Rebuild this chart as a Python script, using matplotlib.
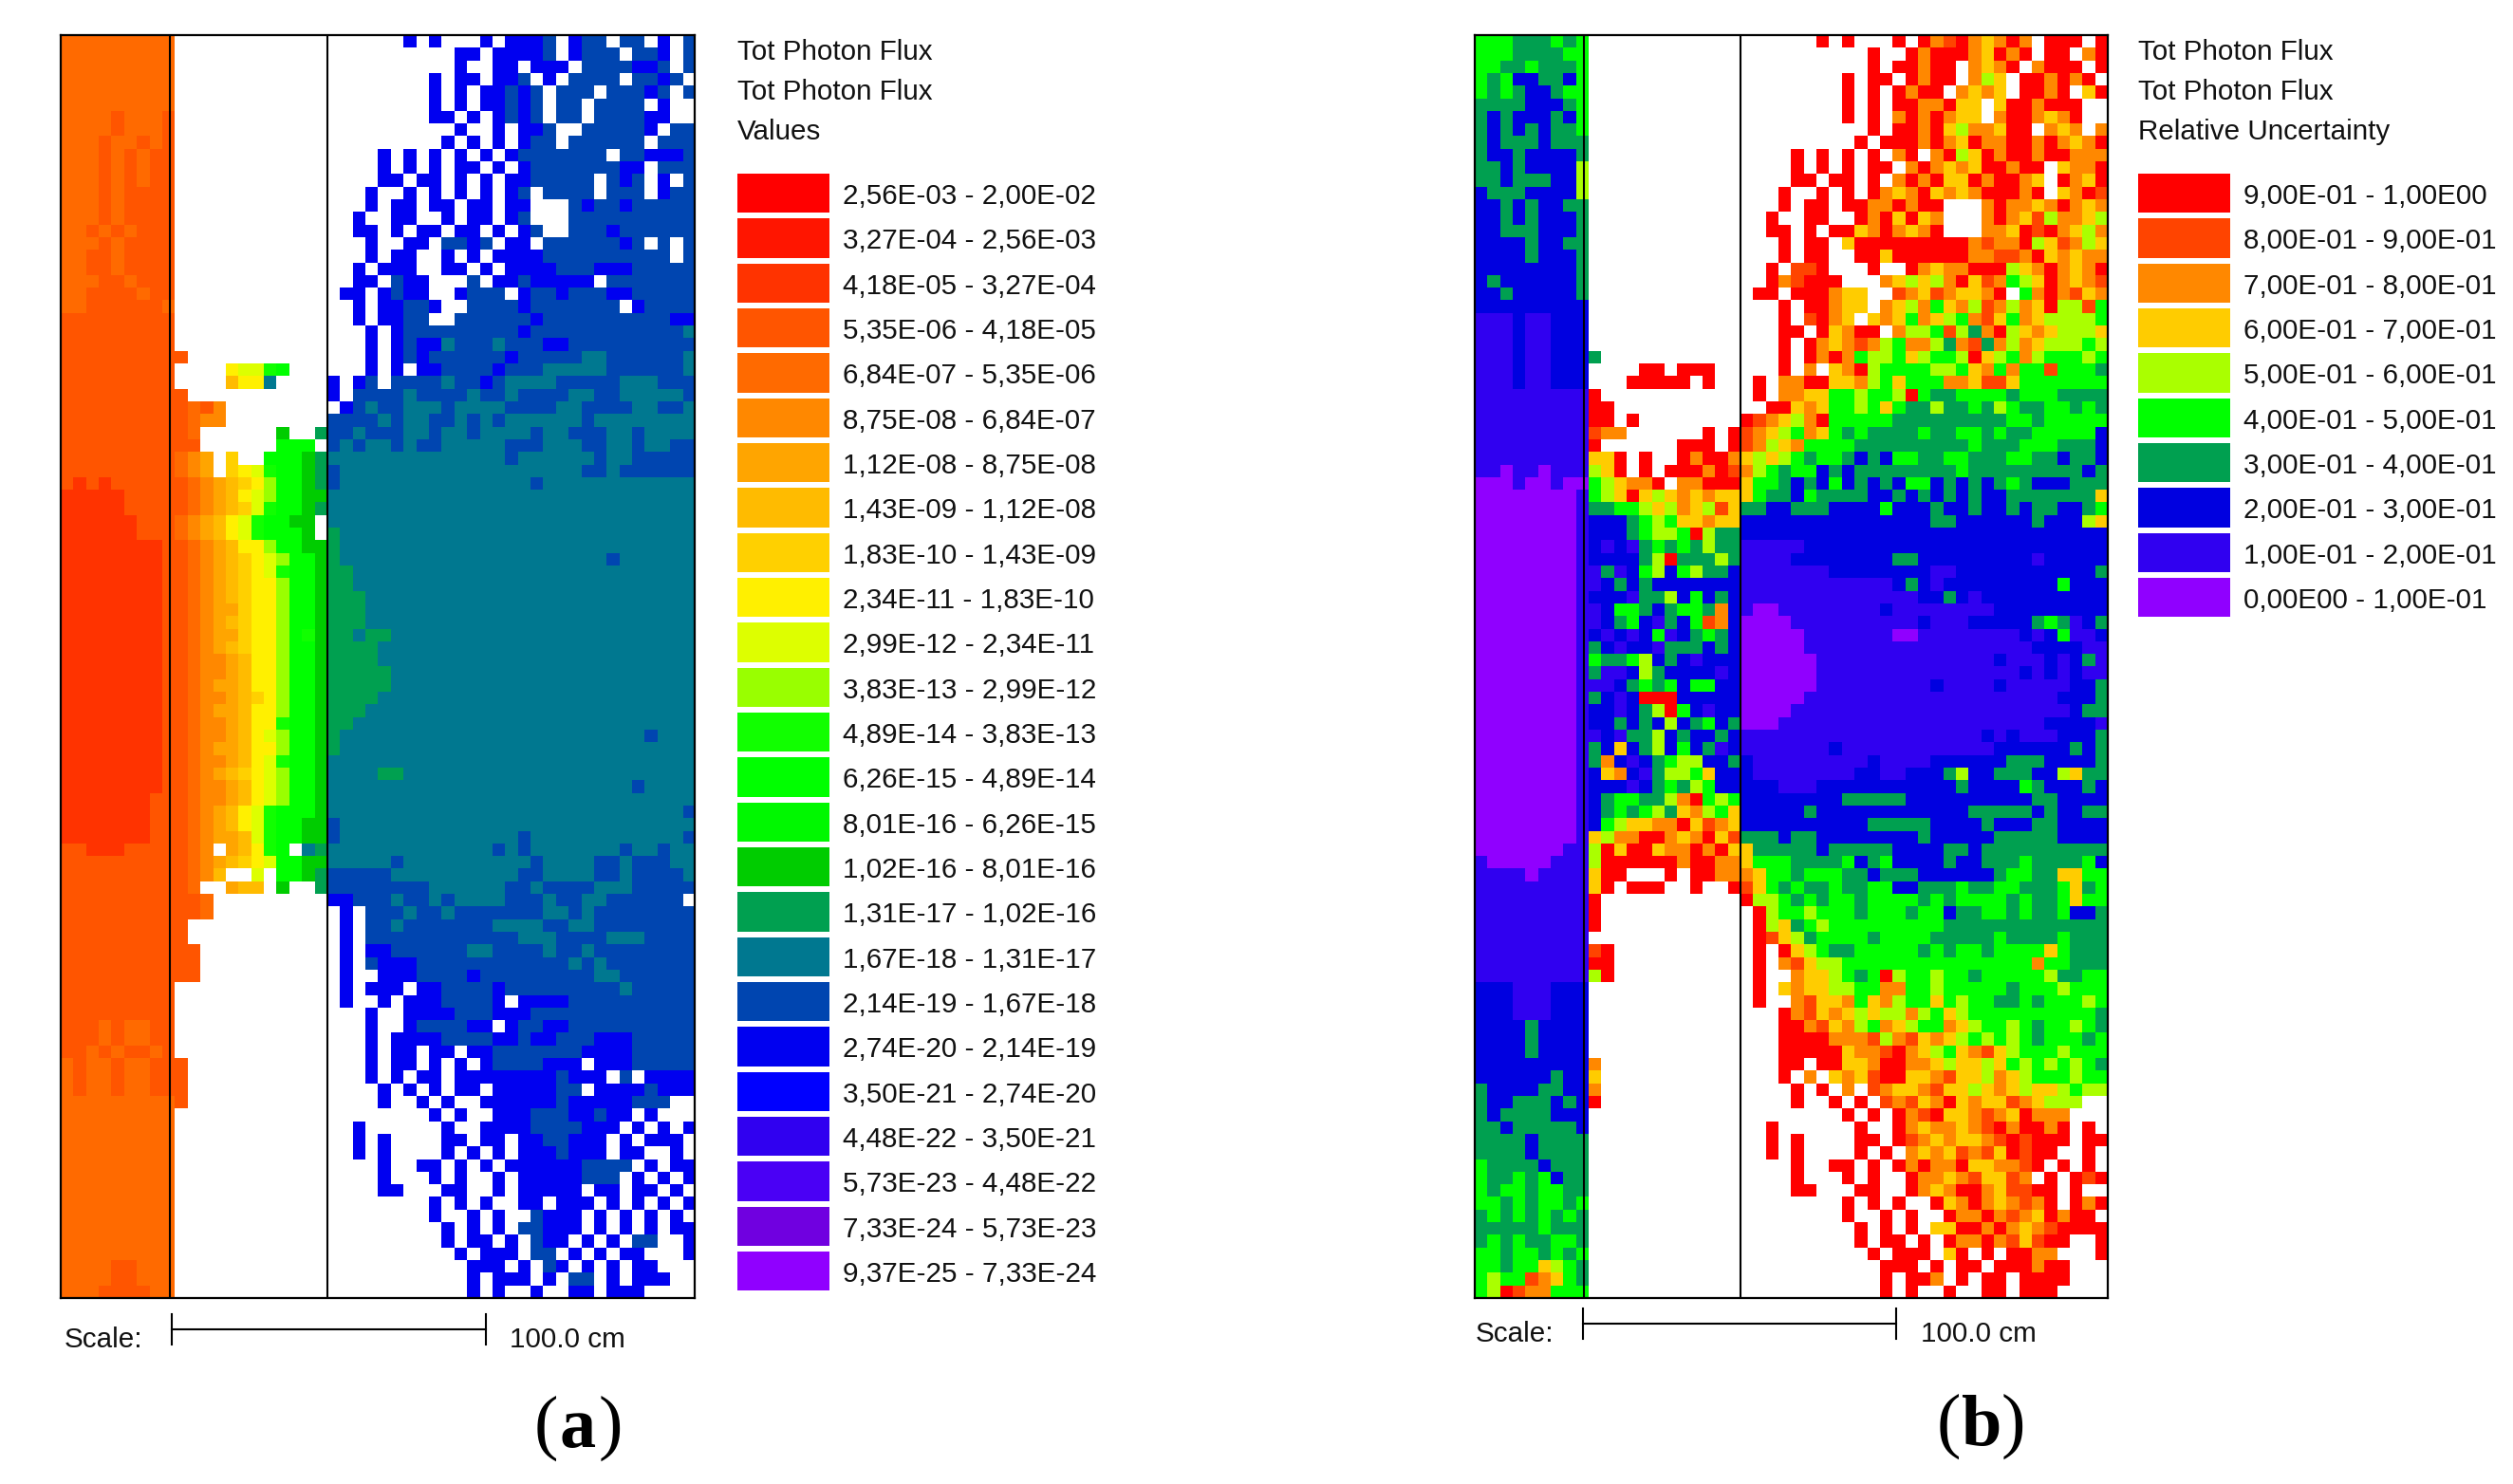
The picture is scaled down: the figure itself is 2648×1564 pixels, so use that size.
import numpy as np
import matplotlib
matplotlib.use('Agg')
import matplotlib.pyplot as plt
from matplotlib.colors import ListedColormap
from matplotlib.patches import Rectangle

# legend classes, top to bottom
FLUX_LABELS = ['2,56E-03 - 2,00E-02', '3,27E-04 - 2,56E-03', '4,18E-05 - 3,27E-04', '5,35E-06 - 4,18E-05',
               '6,84E-07 - 5,35E-06', '8,75E-08 - 6,84E-07', '1,12E-08 - 8,75E-08', '1,43E-09 - 1,12E-08',
               '1,83E-10 - 1,43E-09', '2,34E-11 - 1,83E-10', '2,99E-12 - 2,34E-11', '3,83E-13 - 2,99E-12',
               '4,89E-14 - 3,83E-13', '6,26E-15 - 4,89E-14', '8,01E-16 - 6,26E-15', '1,02E-16 - 8,01E-16',
               '1,31E-17 - 1,02E-16', '1,67E-18 - 1,31E-17', '2,14E-19 - 1,67E-18', '2,74E-20 - 2,14E-19',
               '3,50E-21 - 2,74E-20', '4,48E-22 - 3,50E-21', '5,73E-23 - 4,48E-22', '7,33E-24 - 5,73E-23',
               '9,37E-25 - 7,33E-24']
FLUX_COLORS = ['#FF0000', '#FF1500', '#FF3300', '#FF5500', '#FF6A00', '#FF8800', '#FFA500', '#FFBB00',
               '#FFD000', '#FFF000', '#DDFF00', '#99FF00', '#11FF00', '#00FF00', '#00F800', '#00CC00',
               '#00A050', '#007890', '#0045B0', '#0000F0', '#0000FF', '#3000F0', '#4A00F5', '#7000E0',
               '#9000FF']
UNC_LABELS = ['9,00E-01 - 1,00E00', '8,00E-01 - 9,00E-01', '7,00E-01 - 8,00E-01', '6,00E-01 - 7,00E-01',
              '5,00E-01 - 6,00E-01', '4,00E-01 - 5,00E-01', '3,00E-01 - 4,00E-01', '2,00E-01 - 3,00E-01',
              '1,00E-01 - 2,00E-01', '0,00E00 - 1,00E-01']
UNC_COLORS = ['#FF0000', '#FF4400', '#FF8800', '#FFCC00', '#AAFF00', '#00FF00', '#00A050', '#0000E0',
              '#3000F0', '#9000FF']

# mesh cells: a = first legend class, b = second ..., '.' = no value
# left part of each row: slab and air gap, right part: region behind the second wall
FLUX_LEFT = [
    'eeeeeeeee............', 'eeeeeeeee............', 'eeeeeeeee............', 'eeeeeeeee............',
    'eeeeeeeee............', 'eeeeeeeee............', 'eeeedeeed............', 'eeeedeeed............',
    'eeedeeded............', 'eeedededd............', 'eeedededd............', 'eeedededd............',
    'eeededddd............', 'eeededddd............', 'eeededddd............', 'eedededdd............',
    'eeededddd............', 'eeddedddd............', 'eeddedddd............', 'eeeddeddd............',
    'eeddddedd............', 'eedddddde............', 'ddddddddd............', 'ddddddddd............',
    'ddddddddd............', 'dddddddddd...........', 'ddddddddd....jkkmn...', 'ddddddddd....hjjr....',
    'dddddddddd...........', 'ddddddddddedf........', 'ddddddddddeff........', 'dddddddddde......p..q',
    'ddddddddddd......nnn.', 'dddddddddefg.i..nnnpq', 'dddddddddefg.ijkmnnpq', 'dcdcddddddefghijlnnpq',
    'cccccdddddefghjklnnpp', 'cccccdddddefghikmnnpq', 'ccccccdddefghjkmnnpp', 'ccccccdddefghjkmnnnp',
    'ccccccccddefghjjlnnpp', 'ccccccccddefghijklnnp', 'ccccccccddefghijkmnnp', 'ccccccccddefghijjlnnp',
    'ccccccccddefghijjlnnp', 'ccccccccddefggijjlnnp', 'ccccccccddefghijjlnnp', 'ccccccccddefggijjlnmp',
    'ccccccccddefghijjlnnp', 'ccccccccddeffghjjlnnp', 'ccccccccddeffghjjlnnp', 'ccccccccddefgghjjlnnp',
    'ccccccccddeffghijlnnp', 'ccccccccddefgghjjlnnp', 'ccccccccddeffghjjmnnp', 'ccccccccddeffghjklnnp',
    'ccccccccddefgghjjlnnp', 'ccccccccddeffghjkmnnp', 'ccccccccddefghijklnnp', 'ccccccccddeffghjklnnp',
    'cccccccdddeffghjklnnp', 'cccccccdddefghjkmnnnp', 'cccccccdddefghjkmnnpp', 'cccccccdddefgghkmnnpp',
    'ddcccdddddef.ghjmn.rq', 'ddddddddddefghijknnpp', 'ddddddddddefh..k.nnpq', 'dddddddddde..ghh.p..q',
    'ddddddddddde.........', 'ddddddddddde.........', 'dddddddddd...........', 'dddddddddd...........',
    'ddddddddddd..........', 'ddddddddddd..........', 'ddddddddddd..........', 'ddddddddd............',
    'ddddddddd............', 'ddddddddd............', 'dddedeedd............', 'dddedeedd............',
    'ddededded............', 'edeedeeddd...........', 'edeedeeddd...........', 'edeedeeddd...........',
    'eeeeeeeeed...........', 'eeeeeeeee............', 'eeeeeeeee............', 'eeeeeeeee............',
    'eeeeeeeee............', 'eeeeeeeee............', 'eeeeeeeee............', 'eeeeeeeee............',
    'eeeeeeeee............', 'eeeeeeeee............', 'eeeeeeeee............', 'eeeeeeeee............',
    'eeeeeeeee............', 'eeeeddeee............', 'eeeeddeee............', 'eeeddddee............',
]
FLUX_RIGHT = [
    '......t.t...t.ttts.tss.ss.t.s', '..........tt.tttts.tsss.sst.s', '..........t..tt.ttt.sssstts.s',
    '........t.tt.tts.t.ssss.ssts.', '........t.t.ttsts.sss.sssts.s', '........t.t.ttsts.ss.ssss.t..',
    '........tt.t.tsts.ss.sssstt..', '..........t..t.tts..ssssst.ss', '.........t.t.t.tss.ssssss.sss',
    '....t.t.t.t.t.tsssssss.ssttts', '....t.t.t.tt.t.tssssssstt.sss', '....tt.tt.t.t.ttsssss.sts.t.s',
    '...t..t.t.t.t.ts.ssss.sss.tss', '...t.tt.tt.tt.tt...stsstsssss', '..t..tt..t.tt.ts...ssssssssss',
    '..tt.t.tt.tt.t.ts..ssstssssss', '...t..tt.ssts.tt.ssssssts.s.s', '...t.tt..t.t.ttttssssssssss.s',
    '..t.ttt..tt.t.ttttssstttsssss', '..tt.stt...s.ttsttttt.sssssss', '.tt.tstt..tsss.tsstsssttsssss',
    '..t.ttsst..sssstsssssss.tssss', '..t.ttss..sssssstsssssssssstt', '...t.tssssssssstssssssssssssr',
    '...t.tsttrsssrsssttssssssssss', '...t.tstsssssstsssssrrssssssr', '...t.t.ttsssstsssrrrrrssssssr',
    't.ts.ssssrsstsrrrrsssssrrrsss', 't.ssssrssssrssrssssrrssrrrrrs', '.tsrssrrrsrrrrssssrrssssrrssr',
    'ssssrsrrssrsrsrrrrrrsrrrrrrrr', 'ssrsssrrsrrsrrrrsrrsssrrsrrrr', 'srsrrsrssrrrrrsssrrrssrrsrrss',
    'rrrrrrrrrrrrrrsrrrrrrsrrsssss', 'srrrrrrrrrrrrrrrrrrrssrssssss', 'srrrrrrrrrrrrrrrsrrrrrrrrrrrr',
    'rrrrrrrrrrrrrrrrrrrrrrrrrrrrr', 'rrrrrrrrrrrrrrrrrrrrrrrrrrrrr', 'rrrrrrrrrrrrrrrrrrrrrrrrrrrrr',
    'qrrrrrrrrrrrrrrrrrrrrrrrrrrrr', 'qrrrrrrrrrrrrrrrrrrrrrrrrrrrr', 'qrrrrrrrrrrrrrrrrrrrrrsrrrrrr',
    'qqrrrrrrrrrrrrrrrrrrrrrrrrrrr', 'qqrrrrrrrrrrrrrrrrrrrrrrrrrrr', 'qqqrrrrrrrrrrrrrrrrrrrrrrrrrr',
    'qqqrrrrrrrrrrrrrrrrrrrrrrrrrr', 'qqqrrrrrrrrrrrrrrrrrrrrrrrrrr', 'qqrqqrrrrrrrrrrrrrrrrrrrrrrrr',
    'qqqqrrrrrrrrrrrrrrrrrrrrrrrrr', 'qqqqrrrrrrrrrrrrrrrrrrrrrrrrr', 'qqqqqrrrrrrrrrrrrrrrrrrrrrrrr',
    'qqqqqrrrrrrrrrrrrrrrrrrrrrrrr', 'qqqqrrrrrrrrrrrrrrrrrrrrrrrrr', 'qqqrrrrrrrrrrrrrrrrrrrrrrrrrr',
    'qqrrrrrrrrrrrrrrrrrrrrrrrrrrr', 'qrrrrrrrrrrrrrrrrrrrrrrrrsrrr', 'qrrrrrrrrrrrrrrrrrrrrrrrrrrrr',
    'rrrrrrrrrrrrrrrrrrrrrrrrrrrrr', 'rrrrqqrrrrrrrrrrrrrrrrrrrrrrr', 'rrrrrrrrrrrrrrrrrrrrrrrrsrrrr',
    'rrrrrrrrrrrrrrrrrrrrrrrrrrrrr', 'rrrrrrrrrrrrrrrrrrrrrrrrrrrrs', 'srrrrrrrrrrrrrrrrrrrrrrrrrrrr',
    'srrrrrrrrrrrrrrsrrrrrrrrrrrrs', 'rrrrrrrrrrrrrsrsrrrrrrrsrrsrr', 'rrrrrsrrrrrrrrrrsrrrrssrsssrr',
    'sssssrrrrrrrrrrssrrrrssrssssr', 'ssssssssrrrrrrssrssssrrrsssss', 'ttsssrssrsrrrrsssrssrrssssss',
    '.t.sssrssrsssssssrrsrssssssss', '.t.ssrsssssssrrrrssrrssssssss', '.t.ssssssssssssrrrssssrrrssss',
    '.t.ttssssssrrssssrssrssssssss', '.t.stttssssssssssssrsrsssssss', '.t..tttsssstsssssssssrrssssss',
    '.t.ttt.ttsssstsssssssssrsssss', '.t..t.tttsssst.ttttssssssssss', '...t..ttttssstttsssssssssssss',
    '...t..tsssstt.tssttssssssssss', '...t.ttttssssttsttssstttsssss', '...t.tt.tt.ttsssssssttttsssss',
    '...t.tt.t.t.tssssttt.tttsssss', '...t.t.tt.ttttttttsttt.s.tttt', '....t.t.t.tt.tttttss.ttttsttt',
    '....t..t.t..ttttttstttttsss..', '........t.t..tttsssttstt.t...', '..t......t..ttttssssttt.t.t.t',
    '..t.t....tt.tt.ttssttt.t.ttt.', '..t.t....t.t.t.tttsttt.tt..t.', '....t..tt.t.t.ttttttssss.t.tt',
    '....t...t.t..t.tttttsss.t.t.t', '....tt...tt..t.ttttt.tt.tt.t.', '........t.t.t..tt.ttt.t.t.t.t',
    '........t..t.t..sttt.t.t.t.t.', '.........t.t.t.ssttt.t.t.t.tt', '.........t.tt.t.stt.t.t.ss..t',
    '..........t.ttt.ss.t.t.tt...t', '...........ttt.t.st.t.t.tt...', '...........t.ttt.t.ss.t.ttt..',
    '...........t.t..t..tt.ttt....',
]
UNC_LEFT = [
    'fffgggfgf............', 'fffggggff............', 'ffggfgggf............', 'fgfhhgghf............',
    'fgfghhgff............', 'gggghhhgf............', 'ghghhhghf............', 'ghghghggf............',
    'ghggghggg............', 'ghhghhhhg............', 'gghghhhhe............', 'gghggghhe............',
    'hggghhhhe............', 'hhghghhgg............', 'hhghghhhg............', 'hhggghhhg............',
    'hhhhghhgg............', 'hhhhghhhg............', 'hhhhhhhhg............', 'hghhhhhhg............',
    'hhghhhhhg............', 'hhhhhhhhh............', 'iiihiihhh............', 'iiihiihhh............',
    'iiihiihhh............', 'iiihiihhhg...........', 'iiihiihhh....aa.aaa..', 'iiihiihhh...aaaaa.a..',
    'iiiiiiiiia...........', 'iiiiiiiiiaa..........', 'iiiiiiiiiaa.a........', 'iiiiiiiiibcc......a.a',
    'iiiiiiiiia......aaa.a', 'iiiiiiiiidda.a..acaac', 'iijiijiiieda.a.aaacab', 'jjjijjijjfedcca.ccaaa',
    'jjjjjjjjifedadedcdcdd', 'jjjjjjjjiggffedecdebd', 'jjjjjjjjihhhgfefddcdd', 'jjjjjjjjihhhgfeefaegg',
    'jjjjjjjjihihigfgfgegg', 'jjjjjjjjihhhhgeagggeg', 'jjjjjjjjiigihfehfeggh', 'jjjjjjjjiihghghhhhhhh',
    'jjjjjjjjihhhiggehfhgh', 'jjjjjjjjiihffghgffgch', 'jjjjjjjjiihgfhighfbch', 'jjjjjjjjihihihfihgfgh',
    'jjjjjjjjighihhiggghgh', 'jjjjjjjjifggfehghihhh', 'jjjjjjjjigiiheghhhhih', 'jjjjjjjjiiihgfgfhffhh',
    'jjjjjjjjighihaaahhhhh', 'jjjjjjjjihhihgeafhihh', 'jjjjjjjjihhghghehgfhg', 'jjjjjjjjiihiggehghhgh',
    'jjjjjjjjighdhgehfhgih', 'jjjjjjjjigchihgfeehhg', 'jjjjjjjjihdchigeefdhh', 'jjjjjjjjihhhihgfgefhh',
    'jjjjjjjjihgffggecafef', 'jjjjjjjjihgfgfegdcefd', 'jjjjjjjjihfeddccadbcd', 'jjjjjjjjideccaacdcadb',
    'jjjjjjjiieadaadccacad', 'ijjjjjiiieaaaaaacaacc', 'iiiijiiiidaa...a.aacc', 'iiiiiiiiida.aaa..a..a',
    'iiiiiiiiia...........', 'iiiiiiiiia...........', 'iiiiiiiiia...........', 'iiiiiiiii............',
    'iiiiiiiiiba..........', 'iiiiiiiiiaa..........', 'iiiiiiiiiea..........', 'hhhiiihhh............',
    'hhhiiihhh............', 'hhhiiihhh............', 'hhhhghhhh............', 'hhhhghhhh............',
    'hhhhghhhh............', 'hhhhhhhhhc...........', 'hhhhhhghhd...........', 'ghhhhgghhc...........',
    'ghhggghgha...........', 'ghgggghhh............', 'gghgggggh............', 'gggghgggg............',
    'gggghgggg............', 'fgggghggg............', 'fggfgfhgg............', 'fgffgffgg............',
    'ffgfgffgf............', 'gfgfgfgfg............', 'gggggfggg............', 'gfgfggffg............',
    'ffgffgfgf............', 'ffgffdefg............', 'feffbcdfg............', 'feabccfff............',
]
UNC_RIGHT = [
    '......a.a...a.acbacdcac.aaa.a', '..........a..acaaacdaca.aa.ca', '..........a.aacaa.cdca.caaa.a',
    '........a.aa.acaa.ced.aacaca.', '........a.a.acaa.cdcd.aaca.da', '........a.a.aaccadd.daacaaa..',
    '........a.a.cacacdd.caacdca..', '..........a.aacadeccdaa.cdc.c', '.........a.aaacacdaccaacacdca',
    '....a.a.a.a.ca.caedacaacaaccc', '....a.a.a.aa.cacdcdaacaa.dcca', '....aa.aa.a.cacaddacaacd.acda',
    '...a..a.a.acdcadcdcaaaca.dcab', '...a.aa.aaccacaa...caccdcacdc', '..a..aa..acadadc...cacdbeccde',
    '..aa.a.aadcacdca...ccdabacdec', '...a.aa.daaaaaaaaacbccaedbced', '...a.aa..aadaaaaaaccbbcadcdcc',
    '..a.bba...a..acdccaaaedcacdca', '..acbaaa...cdedecadbcfedacdcb', '.aa.aaacdd..bcdbcddca.fcacbdc',
    '...a.aacdd.cdecfdcebcecdaeebf', '...a.bacd.dcdfcdefcbdfcdeeeef', '...aa.adcaa.ceefbegcaedcdeeed',
    '...a.acdcbcefccegcbgcecdeeefe', '...a.acacfeefdeffeadefcefffef', '...a.c.dcaeffffeefdcfcffbfffg',
    '.a.ccaaddcefdfffccdbbdfffffff', '.a.ccddffeffeafggffffgfffgggg', '..aadcdffefdfggeggfgefggffgfg',
    'abcdecafffffgggggggggffgfffff', 'bcdefcdfgfggggfggffgfggfffffh', 'bcedcffffgggggggggfgggfffgggh',
    'dedefgffghghffggffgggffgghggh', 'cefgffhghggggggggfggggggggghg', 'dffghghfhghghffhghghgfghhhggg',
    'dfgghfgggghhghghghghhgggggggd', 'gghhggghhhhfhhhghhghhghgghhgf', 'hhhhhhhhhhhhhhhgghhhhhhghhhed',
    'hhhhhhhhhhhhhhhhhhhhhhhhhhhhh', 'iiiiihhhhhhhhhhhhhhhhhhhhhhhh', 'iiiihhhhhhhhgghhhhhhhhhihhhhh',
    'iiiiiiihhhhhhhhiihhhhhhhhhhhg', 'iiiiiiiiiiiihghihhhhhhhhhfhhh', 'iiiiiiiiiiiiiihhghihhhhhhhhhh',
    'ijjiiiiiiiihiiiiiiiihhhhhhhhh', 'jjjjiiiiiiiiiihiiihhhhhgfgihg', 'jjjjjiiiiiiijjiiiiiiiihihfiih',
    'jjjjjiiiiiiiiiiiiiiiiiihhhhii', 'jjjjjjiiiiiiiiiiiiiihiiihihgi', 'jjjjjjiiiiiiiiiiiiiiiihihihii',
    'jjjjjjiiiiiiiiihiiiihiiiiihhg', 'jjjjjiiiiiiiiiiiiiiiiiiiihhhg', 'jjjjiiiiiiiiiiiiiiiiiiiiiihgg',
    'jjjiiiiiiiiiiiiiiiiiiiiihhhhi', 'iiiiiiiiiiiiiiiiiiihihiiihhhg', 'iiiiiiihiiiiiiiiiiiihhhhhhghg',
    'hiiiiiiiiihiiiihhhhhhggghhhhg', 'hiiiiiiiihhiihhhgehhggghhedgg', 'hhhiiihhhhhhhhhhhghhhhfghhhgh',
    'hhhhhhhhggggghhhhhhhhhhgghhhh', 'hhhhhghhhhhhhhhhhhggggghghhgg', 'hhhhhhhhhhggggghhhhghhhgghhhh',
    'ggghgghhhhhhhhghhhhhggggghhhh', 'dggggghggggghhhhgghggggggggggh', 'dfffggggfhgfhhhhghhgggfggggfh',
    'cdffgfffgghggghhhhhhgffggddff', 'bdfgfggfggffhhgggfggffgggfdgf', 'aeefgfgffgffffgfgffffgfggfdff',
    '.aeffefffgfffgffhggffgfggfhhg', '.aedgfefffffffffggggggggggggg', '.abdegffffgffffgggggfggggfggg',
    '.a.adefggfffffgfgffgffffdfggg', '.a.cbdeefffffffffffffffcffggg', '.a..cddefgfaeffeffgfffffeggff',
    '.a.dcddeeffccffefffffgfffefff', '.a..cbddcfdceffdfeffggfgfffef', '...acbdcdedeecefdeffffffffffg',
    '...aacbdcefcdeffcdeffefgffefg', '...aaaacccbecbdcdefefefgfffgf', '...aaaaadccbacdefdcbdefffefff',
    '...aa.aaddcaaccdeddedfefefefg', '...a.c.dcdbaaddcbddecdefffeff', '....a.a.c.bcddcbddedcdeddefee',
    '....a..a.a.bcbdcadcddbcdeee..', '........a.a.acbaddcbcdaccc...', '..a......a..acdccdcbacaaca.a.',
    '..a.a....aa.abcdcddcbabaaa.aa', '..a.a....a.a.cdcdbcbdabaa..a.', '....a..aa.a.acaccaddccba.a.a.',
    '....a...a.a..accdcbddbc.a.aba', '....aa...aa..acdcaacdbbaa.a..', '........a.a.a..adcacdcbca.aca',
    '........a..a.a..accacbcdacaa.', '.........a.a.a.ddaacacdcbaaaa', '.........a.aa.a.accacbdbaa..a',
    '..........a.aaa.da.a.aacc...a', '...........aaa.a.aa.aaacaa...', '...........a.aac.a.aa.aaaa...',
    '...........a.a..a..aa.aaa....',
]


def to_grid(left, right):
    # letters to class numbers, left part 21 cells wide, right part 29
    grid = np.full((len(left), 50), np.nan)
    for i, (l, r) in enumerate(zip(left, right)):
        row = l.ljust(21, '.')[:21] + r.ljust(29, '.')[:29]
        for j, ch in enumerate(row):
            if ch != '.':
                grid[i, j] = ord(ch) - ord('a')
    return grid


W, H = 2648, 1564


def draw_map(fig, box, walls, grid, colors):
    x0, x1, y0, y1 = box
    ax = fig.add_axes([x0 / W, 1 - y1 / H, (x1 - x0) / W, (y1 - y0) / H])
    cmap = ListedColormap(colors)
    ax.imshow(np.ma.masked_invalid(grid), cmap=cmap, vmin=-0.5, vmax=len(colors) - 0.5,
              extent=(0, 50, 100, 0), aspect='auto', interpolation='nearest')
    for w in walls:
        ax.axvline(w, color='black', lw=1.5)
    ax.set_xticks([])
    ax.set_yticks([])
    for s in ax.spines.values():
        s.set_linewidth(1.6)
    return ax


def draw_legend(page, x, header, labels, colors):
    for i, t in enumerate(header):
        page.text(x, 55 + 42 * i, t, fontsize=LEG_FS, va='center', ha='left', color='#111111')
    for i, (t, c) in enumerate(zip(labels, colors)):
        top = 183 + 47.33 * i
        page.add_patch(Rectangle((x, top), 97, 41.3, facecolor=c, edgecolor='none'))
        page.text(x + 111, top + 24, t, fontsize=LEG_FS, va='center', ha='left', color='#111111')


def draw_scale(page, x0, x1, y, tx, lab_x):
    page.plot([x0, x1], [y, y], color='black', lw=1.5)
    page.plot([x0, x0], [y - 16, y + 16], color='black', lw=1.5)
    page.plot([x1, x1], [y - 16, y + 16], color='black', lw=1.5)
    page.text(tx, y + 11, 'Scale:', fontsize=LEG_FS, va='center', ha='left', color='#111111')
    page.text(lab_x, y + 11, '100.0 cm', fontsize=LEG_FS, va='center', ha='left', color='#111111')


def draw_tag(page, xc, y, letter):
    # parentheses are regular weight, the letter is bold
    page.text(xc - 34, y, '(', fontsize=55, family='Liberation Serif', ha='center', va='center')
    page.text(xc, y + 2, letter, fontsize=55, family='Liberation Serif', weight='bold', ha='center', va='center')
    page.text(xc + 34, y, ')', fontsize=55, family='Liberation Serif', ha='center', va='center')


LEG_FS = 21.3
plt.rcParams['font.family'] = ['Liberation Sans', 'DejaVu Sans']

fig = plt.figure(figsize=(W / 100, H / 100), dpi=100)
page = fig.add_axes([0, 0, 1, 1])
page.set_xlim(0, W)
page.set_ylim(H, 0)
page.axis('off')

draw_map(fig, (64, 732, 37, 1368), [8.6, 21.0], to_grid(FLUX_LEFT, FLUX_RIGHT), FLUX_COLORS)
draw_map(fig, (1554, 2221, 37, 1368), [8.6, 21.0], to_grid(UNC_LEFT, UNC_RIGHT), UNC_COLORS)

draw_legend(page, 777, ['Tot Photon Flux', 'Tot Photon Flux', 'Values'], FLUX_LABELS, FLUX_COLORS)
draw_legend(page, 2253, ['Tot Photon Flux', 'Tot Photon Flux', 'Relative Uncertainty'], UNC_LABELS, UNC_COLORS)

draw_scale(page, 181, 512, 1401, 68, 537)
draw_scale(page, 1668, 1998, 1395, 1555, 2024)
draw_tag(page, 609, 1505, 'a')
draw_tag(page, 2087, 1503, 'b')

fig.savefig('out.png', dpi=100)
